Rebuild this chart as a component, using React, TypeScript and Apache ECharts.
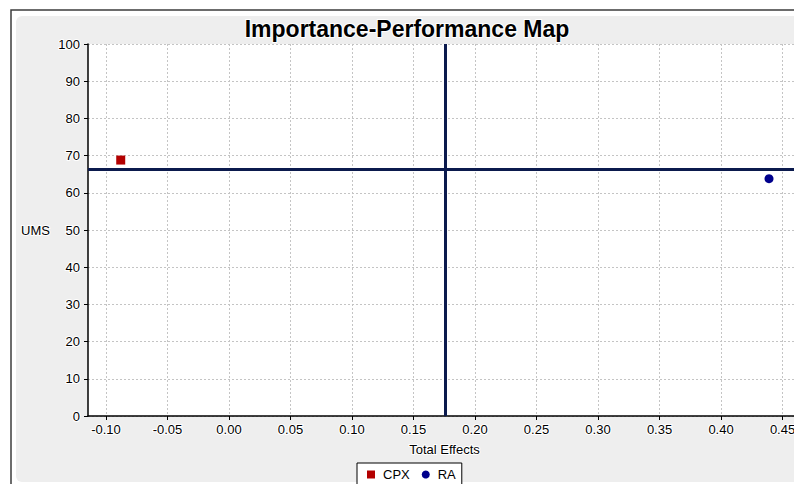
import React, { useEffect, useRef } from "react";
import * as echarts from "echarts";

const titleText = "Importance-Performance Map";
const xAxisName = "Total Effects";
const yAxisName = "UMS";
const seriesNames = ["CPX", "RA"];
const totalEffects = [-0.088, 0.439];
const performance = [68.8, 63.8];
const xTicks = [-0.1, -0.05, 0, 0.05, 0.1, 0.15, 0.2, 0.25, 0.3, 0.35, 0.4, 0.45];
const xRange = [-0.1146, 0.465];
const yRange = [0, 100];

const FONT = "'Liberation Sans', Arial, sans-serif";

export default function App() {
  const ref = useRef<HTMLDivElement>(null);
  useEffect(() => {
    if (!ref.current) return;
    const chart = echarts.init(ref.current, undefined, { renderer: "svg" });
    const meanX = totalEffects.reduce((a, b) => a + b, 0) / totalEffects.length;
    const meanY = performance.reduce((a, b) => a + b, 0) / performance.length;
    const halo = { textBorderColor: "#ffffff", textBorderWidth: 2 };
    chart.setOption({
      animation: false,
      backgroundColor: "#ffffff",
      textStyle: { fontFamily: FONT },
      graphic: [
        {
          type: "rect",
          z: -20,
          shape: { x: 11, y: 10, width: 820, height: 490 },
          style: { fill: "#ffffff", stroke: "#3c3c3c", lineWidth: 1.5 },
        },
        {
          type: "rect",
          z: -19,
          shape: { x: 16, y: 16, width: 810, height: 466, r: 6 },
          style: { fill: "#eeeeee" },
        },
      ],
      title: {
        text: titleText,
        left: 407,
        textAlign: "center",
        top: 17,
        padding: 0,
        textStyle: { fontFamily: FONT, fontSize: 23, fontWeight: "bold", color: "#000", ...halo },
      },
      legend: {
        data: [
          { name: "CPX", icon: "rect" },
          { name: "RA", icon: "circle" },
        ],
        left: 357,
        top: 463,
        itemWidth: 8,
        itemHeight: 8,
        itemGap: 12,
        padding: [5, 6, 5, 10],
        backgroundColor: "#ffffff",
        borderColor: "#000000",
        borderWidth: 1,
        borderRadius: 0,
        textStyle: { fontFamily: FONT, fontSize: 13, color: "#000", padding: [0, 0, 0, 3] },
      },
      grid: {
        left: 88,
        top: 44,
        right: 9,
        bottom: 68,
        show: true,
        backgroundColor: "#ffffff",
        borderWidth: 0,
      },
      xAxis: {
        type: "value",
        min: xRange[0],
        max: xRange[1],
        name: xAxisName,
        nameLocation: "middle",
        nameGap: 26,
        nameTextStyle: { fontFamily: FONT, fontSize: 13, color: "#000", ...halo },
        axisLine: { show: true, onZero: false, lineStyle: { color: "#000", width: 1.5 } },
        axisTick: { show: true, length: 4, customValues: xTicks, lineStyle: { color: "#000" } },
        axisLabel: {
          customValues: xTicks,
          margin: 7,
          fontFamily: FONT,
          fontSize: 13,
          color: "#000",
          ...halo,
          formatter: (v: number) => v.toFixed(2),
        },
        splitLine: {
          show: true,
          customValues: xTicks,
          lineStyle: { color: "#c4c4c4", type: [2, 2], width: 1 },
        },
      },
      yAxis: {
        type: "value",
        min: yRange[0],
        max: yRange[1],
        interval: 10,
        name: yAxisName,
        nameLocation: "middle",
        nameRotate: 0,
        nameGap: 38,
        nameTextStyle: { fontFamily: FONT, fontSize: 13, color: "#000", ...halo },
        axisLine: { show: true, onZero: false, lineStyle: { color: "#000", width: 1.5 } },
        axisTick: { show: true, length: 4, lineStyle: { color: "#000" } },
        axisLabel: { margin: 8, fontFamily: FONT, fontSize: 13, color: "#000", ...halo },
        splitLine: { show: true, lineStyle: { color: "#c4c4c4", type: [2, 2], width: 1 } },
      },
      series: [
        {
          name: "means",
          type: "scatter",
          data: [],
          silent: true,
          markLine: {
            silent: true,
            symbol: "none",
            precision: 6,
            label: { show: false },
            lineStyle: { color: "#0b1a4d", width: 3, type: "solid" },
            data: [{ xAxis: meanX }, { yAxis: meanY }],
          },
        },
        {
          name: seriesNames[0],
          type: "scatter",
          symbol: "rect",
          symbolSize: 9,
          itemStyle: { color: "#b30000", opacity: 1 },
          data: [[totalEffects[0], performance[0]]],
          z: 5,
        },
        {
          name: seriesNames[1],
          type: "scatter",
          symbol: "circle",
          symbolSize: 9,
          itemStyle: { color: "#00008c", opacity: 1 },
          data: [[totalEffects[1], performance[1]]],
          z: 5,
        },
      ],
    });
    return () => chart.dispose();
  }, []);
  return (
    <div style={{ position: "absolute", left: 0, top: 0, width: 794, height: 484, overflow: "hidden", background: "#fff" }}>
      <div ref={ref} style={{ width: 810, height: 484 }} />
    </div>
  );
}
